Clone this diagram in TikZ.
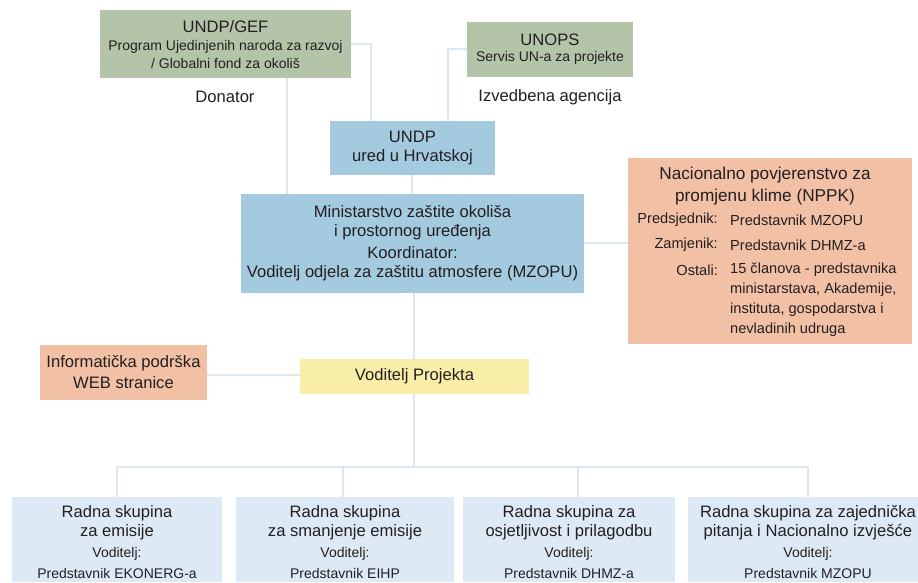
\documentclass[tikz,border=0pt]{standalone}
\usepackage{fontspec}
\setmainfont{Liberation Sans}
\definecolor{cgreen}{HTML}{B3C4A9}
\definecolor{cblue}{HTML}{A3CADF}
\definecolor{csalmon}{HTML}{F2C0A5}
\definecolor{cyellow}{HTML}{F8EEA7}
\definecolor{clight}{HTML}{DDEAF6}
\definecolor{cline}{HTML}{DCE7F3}
\definecolor{ctext}{HTML}{231F20}
\begin{document}
\begin{tikzpicture}[x=1pt,y=-1pt,
  box/.style={inner sep=0pt, outer sep=0pt, align=center, text=ctext},
  conn/.style={draw=cline, line width=2pt},
  ttl/.style={font=\fontsize{16.6}{19}\selectfont},
  big/.style={font=\fontsize{17.2}{19}\selectfont},
  sub/.style={font=\fontsize{14}{16}\selectfont},
  row/.style={font=\fontsize{14.6}{16}\selectfont},
  lbl/.style={text=ctext, inner sep=0pt}]
\useasboundingbox (0,0) rectangle (918,582);
% boxes
\fill[cgreen] (100,10) rectangle (351,78);
\fill[cgreen] (467,22) rectangle (633,77);
\fill[cblue] (330,121) rectangle (495,175);
\fill[cblue] (241,194) rectangle (584,293);
\fill[csalmon] (628,158) rectangle (912,344);
\fill[csalmon] (40,345) rectangle (207,400);
\fill[cyellow] (300,359) rectangle (529,394);
\fill[clight] (12,497) rectangle (222,582);
\fill[clight] (236,497) rectangle (454,582);
\fill[clight] (463,497) rectangle (675,582);
\fill[clight] (688,497) rectangle (918,582);
% named anchor points
\coordinate (gefR) at (351,44);
\coordinate (gefB) at (287,78);
\coordinate (unopsL) at (467,49);
\coordinate (undpT1) at (371,121);
\coordinate (undpT2) at (448,121);
\coordinate (undpB) at (412,175);
\coordinate (minT1) at (287,194);
\coordinate (minT2) at (412,194);
\coordinate (minB) at (414,293);
\coordinate (minR) at (584,243);
\coordinate (nppkL) at (628,243);
\coordinate (infR) at (207,375);
\coordinate (vodL) at (300,375);
\coordinate (vodT) at (414,359);
\coordinate (vodB) at (414,394);
\coordinate (bus) at (414,467);
\coordinate (w1) at (117,497);
\coordinate (w2) at (343,497);
\coordinate (w3) at (578,497);
\coordinate (w4) at (808,497);
% connectors
\draw[conn] (gefR) -| (undpT1);
\draw[conn] (unopsL) -| (undpT2);
\draw[conn] (gefB) -- (minT1);
\draw[conn] (undpB) -- (minT2);
\draw[conn] (minB) -- (vodT);
\draw[conn] (minR) -- (nppkL);
\draw[conn] (infR) -- (vodL);
\draw[conn] (vodB) -- (bus);
\draw[conn] (w1) |- (bus) -| (w4);
\draw[conn] (w2) -- (343,467);
\draw[conn] (w3) -- (578,467);
% texts
\node[lbl,ttl] (gef1) at (225.5,27) {UNDP/GEF};
\node[lbl,sub] (gef2) at (225.5,47) {Program Ujedinjenih naroda za razvoj};
\node[lbl,sub] (gef3) at (225.5,63) {/ Globalni fond za okoliš};
\node[lbl,ttl] (don) at (225,97) {Donator};
\node[lbl,ttl] (uno1) at (550,40) {UNOPS};
\node[lbl,sub] (uno2) at (550,58) {Servis UN-a za projekte};
\node[lbl,ttl] (izv) at (550,97) {Izvedbena agencija};
\node[lbl,ttl] (undp1) at (412.5,137) {UNDP};
\node[lbl,ttl] (undp2) at (412.5,157) {ured u Hrvatskoj};
\node[lbl,ttl] (min1) at (412.5,212) {Ministarstvo zaštite okoliša};
\node[lbl,ttl] (min2) at (412.5,232) {i prostornog uređenja};
\node[lbl,ttl] (min3) at (412.5,253) {Koordinator:};
\node[lbl,ttl] (min4) at (412.5,273) {Voditelj odjela za zaštitu atmosfere (MZOPU)};
\node[lbl,big] (np1) at (765,175) {Nacionalno povjerenstvo za};
\node[lbl,big] (np2) at (765,197) {promjenu klime (NPPK)};
\node[lbl,row,anchor=east] (np3a) at (718,220) {Predsjednik:};
\node[lbl,row,anchor=west] (np3b) at (730,220) {Predstavnik MZOPU};
\node[lbl,row,anchor=east] (np4a) at (718,245) {Zamjenik:};
\node[lbl,row,anchor=west] (np4b) at (730,245) {Predstavnik DHMZ-a};
\node[lbl,row,anchor=east] (np5a) at (718,270) {Ostali:};
\node[lbl,row,anchor=west] (np5b) at (730,270) {15 članova - predstavnika};
\node[lbl,row,anchor=west] (np6) at (730,290) {ministarstava, Akademije,};
\node[lbl,row,anchor=west] (np7) at (730,310) {instituta, gospodarstva i};
\node[lbl,row,anchor=west] (np8) at (730,330) {nevladinih udruga};
\node[lbl,ttl] (inf1) at (123.5,363) {Informatička podrška};
\node[lbl,ttl] (inf2) at (123.5,383) {WEB stranice};
\node[lbl,ttl] (vod) at (414.5,376) {Voditelj Projekta};
% bottom groups
\node[lbl,ttl] (a1) at (117,513) {Radna skupina};
\node[lbl,ttl] (a2) at (117,532) {za emisije};
\node[lbl,sub] (a3) at (117,554) {Voditelj:};
\node[lbl,sub] (a4) at (117,573) {Predstavnik EKONERG-a};
\node[lbl,ttl] (b1) at (345,513) {Radna skupina};
\node[lbl,ttl] (b2) at (345,532) {za smanjenje emisije};
\node[lbl,sub] (b3) at (345,554) {Voditelj:};
\node[lbl,sub] (b4) at (345,573) {Predstavnik EIHP};
\node[lbl,ttl] (c1) at (569,513) {Radna skupina za};
\node[lbl,ttl] (c2) at (569,532) {osjetljivost i prilagodbu};
\node[lbl,sub] (c3) at (569,554) {Voditelj:};
\node[lbl,sub] (c4) at (569,573) {Predstavnik DHMZ-a};
\node[lbl,ttl] (d1) at (808,513) {Radna skupina za zajednička};
\node[lbl,ttl] (d2) at (808,532) {pitanja i Nacionalno izvješće};
\node[lbl,sub] (d3) at (808,554) {Voditelj:};
\node[lbl,sub] (d4) at (808,573) {Predstavnik MZOPU};
\end{tikzpicture}
\end{document}
